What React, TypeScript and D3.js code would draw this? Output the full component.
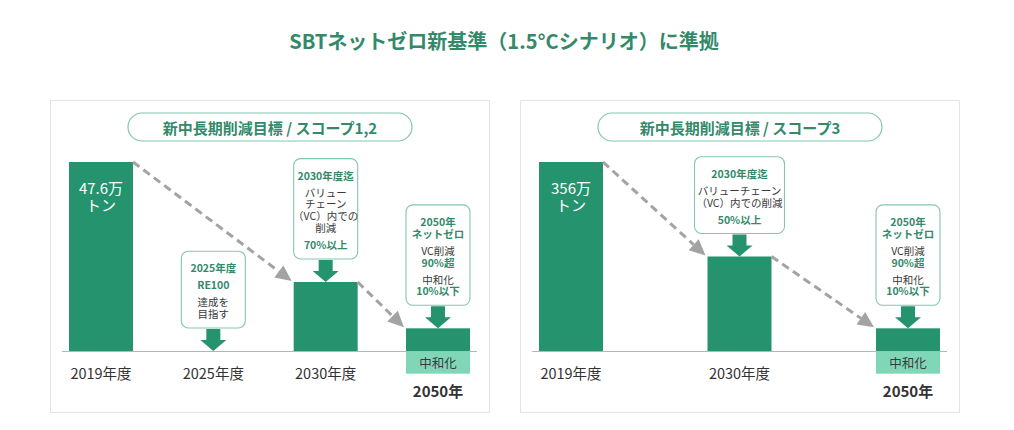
import React from "react";
import * as d3 from "d3";

// ---------- data ----------
const title = "SBTネットゼロ新基準（1.5°Cシナリオ）に準拠";

const panel1Title = "新中長期削減目標 / スコープ1,2";
const panel1Categories = ["2019年度", "2025年度", "2030年度", "2050年"];
const panel1Values = [100, 0, 36.5, 12];
const panel1Neutral = [0, 0, 0, 12];
const panel1Callouts: (string[][] | null)[] = [
  null,
  [["g:2025年度"], ["g:RE100"], ["達成を", "目指す"]],
  [["g:2030年度迄"], ["バリュー", "チェーン", "（VC）内での", "削減"], ["g:70%以上"]],
  [["g:2050年", "g:ネットゼロ"], ["VC削減", "g:90%超"], ["中和化", "g:10%以下"]],
];
const panel1BarLabel = ["47.6万", "トン"];

const panel2Title = "新中長期削減目標 / スコープ3";
const panel2Categories = ["2019年度", "2030年度", "2050年"];
const panel2Values = [100, 50, 12];
const panel2Neutral = [0, 0, 12];
const panel2Callouts: (string[][] | null)[] = [
  null,
  [["g:2030年度迄"], ["バリューチェーン", "（VC）内での削減"], ["g:50%以上"]],
  [["g:2050年", "g:ネットゼロ"], ["VC削減", "g:90%超"], ["中和化", "g:10%以下"]],
];
const panel2BarLabel = ["356万", "トン"];

const neutralLabel = "中和化";

// ---------- style ----------
const DARK = "#24936e";
const LIGHT = "#7fd7b8";
const TITLE_GREEN = "#33896a";
const BOX_STROKE = "#84c6ad";
const FONT = "'Noto Sans CJK JP', 'Noto Sans', sans-serif";

const PW = 439;
const PH = 312;
const BASE = 251; // local baseline y (panel top = 100)
const TOP = 62;
const BAR_W = 64;

function DownArrow({ cx, yTop, yBottom }: { cx: number; yTop: number; yBottom: number }) {
  const head = 11;
  const sw = 7;
  const hw = 13;
  const yh = yBottom - head;
  const d = `M${cx - sw},${yTop} L${cx + sw},${yTop} L${cx + sw},${yh} L${cx + hw},${yh} L${cx},${yBottom} L${cx - hw},${yh} L${cx - sw},${yh} Z`;
  return <path d={d} fill={DARK} />;
}

function layoutCallout(blocks: string[][]) {
  const lines: { text: string; green: boolean; y: number }[] = [];
  let y = 16;
  blocks.forEach((blk, bi) => {
    if (bi > 0) y += 17;
    blk.forEach((s, li) => {
      if (li > 0) y += 11.8;
      const green = s.startsWith("g:");
      lines.push({ text: green ? s.slice(2) : s, green, y });
    });
  });
  return { lines, height: y + 15 };
}

function Panel({
  x,
  heading,
  categories,
  values,
  neutral,
  callouts,
  barLabel,
  boxWidths,
}: {
  x: number;
  heading: string;
  categories: string[];
  values: number[];
  neutral: number[];
  callouts: (string[][] | null)[];
  barLabel: string[];
  boxWidths: number[];
}) {
  const xs = d3.scalePoint<string>().domain(categories).range([51, 388]);
  const ys = d3.scaleLinear().domain([0, 100]).range([BASE, TOP]);
  const last = categories.length - 1;

  const active = values.map((v, i) => ({ v, i })).filter((d) => d.v > 0);
  const links = active.slice(1).map((d, k) => ({ from: active[k], to: d }));

  return (
    <g transform={`translate(${x},100)`}>
      <rect x={0.5} y={0.5} width={PW} height={PH} fill="#fff" stroke="#e3e3e3" />
      <rect x={78} y={13} width={284} height={28} rx={14} fill="#fff" stroke={BOX_STROKE} strokeWidth={1.2} />
      <text x={220} y={27} textAnchor="middle" dominantBaseline="central" fontSize={15} fontWeight={700} fill={TITLE_GREEN}>
        {heading}
      </text>

      {/* bars */}
      {values.map((v, i) => {
        const cx = xs(categories[i])!;
        return v > 0 ? (
          <rect key={"b" + i} x={cx - BAR_W / 2} y={ys(v)} width={BAR_W} height={BASE - ys(v)} fill={DARK} />
        ) : null;
      })}
      {neutral.map((v, i) => {
        const cx = xs(categories[i])!;
        return v > 0 ? (
          <g key={"n" + i}>
            <rect x={cx - BAR_W / 2} y={BASE} width={BAR_W} height={ys(0) - ys(v)} fill={LIGHT} />
            <text x={cx} y={BASE + (ys(0) - ys(v)) / 2 + 0.5} textAnchor="middle" dominantBaseline="central" fontSize={12.5} fill="#3a3a3a">
              {neutralLabel}
            </text>
          </g>
        ) : null;
      })}

      {/* baseline */}
      <line x1={12} x2={427} y1={BASE + 0.5} y2={BASE + 0.5} stroke="#b5b5b5" strokeWidth={1} />

      {/* bar label */}
      <text x={xs(categories[0])!} y={ys(values[0]) + 25} textAnchor="middle" dominantBaseline="central" fontSize={15} fill="#fff">
        <tspan x={xs(categories[0])!} y={ys(values[0]) + 25}>{barLabel[0]}</tspan>
        <tspan x={xs(categories[0])!} y={ys(values[0]) + 42}>{barLabel[1]}</tspan>
      </text>

      {/* dashed trend links */}
      {links.map((l, k) => {
        const x1 = xs(categories[l.from.i])! + BAR_W / 2;
        const y1 = ys(l.from.v);
        const x2 = xs(categories[l.to.i])! - BAR_W / 2 - 2;
        const y2 = ys(l.to.v) - 1;
        const ang = Math.atan2(y2 - y1, x2 - x1);
        const hl = 16;
        const hw = 7.5;
        const bx = x2 - hl * Math.cos(ang);
        const by = y2 - hl * Math.sin(ang);
        const px = -Math.sin(ang);
        const py = Math.cos(ang);
        return (
          <g key={"l" + k}>
            <line x1={x1} y1={y1} x2={bx} y2={by} stroke="#a3a3a3" strokeWidth={3} strokeDasharray="8 5" />
            <path
              d={`M${x2},${y2} L${bx + px * hw},${by + py * hw} L${bx - px * hw},${by - py * hw} Z`}
              fill="#a3a3a3"
            />
          </g>
        );
      })}

      {/* callouts */}
      {callouts.map((c, i) => {
        if (!c) return null;
        const cx = xs(categories[i])!;
        const { lines, height } = layoutCallout(c);
        const bottom = ys(values[i]) - 23;
        const top = bottom - height;
        const w = boxWidths[i];
        return (
          <g key={"c" + i}>
            <rect x={cx - w / 2 + 0.5} y={top} width={w - 1} height={height} rx={7} fill="#fff" stroke={BOX_STROKE} strokeWidth={1.1} />
            <text x={cx} y={top + lines[0].y} textAnchor="middle" dominantBaseline="central" fontSize={10.5}>
              {lines.map((ln, j) => (
                <tspan
                  key={j}
                  x={cx}
                  y={top + ln.y}
                  fontWeight={ln.green ? 700 : 400}
                  fill={ln.green ? TITLE_GREEN : "#3a3a3a"}
                >
                  {ln.text}
                </tspan>
              ))}
            </text>
            <DownArrow cx={cx} yTop={bottom + 1} yBottom={ys(values[i])} />
          </g>
        );
      })}

      {/* category labels */}
      {categories.map((c, i) => {
        const cx = xs(c)!;
        const isLast = i === last;
        return (
          <text
            key={"t" + i}
            x={cx}
            y={isLast ? 290 : 272}
            textAnchor="middle"
            dominantBaseline="central"
            fontSize={isLast ? 15 : 14.5}
            fontWeight={isLast ? 700 : 400}
            fill="#333"
          >
            {c}
          </text>
        );
      })}
    </g>
  );
}

export default function App() {
  return (
    <svg
      width={1014}
      height={430}
      style={{ position: "absolute", left: 0, top: 0, background: "#fff" }}
      fontFamily={FONT}
    >
      <rect width={1014} height={430} fill="#fff" />
      <text x={504} y={40} textAnchor="middle" dominantBaseline="central" fontSize={20} fontWeight={700} fill={TITLE_GREEN}>
        {title}
      </text>
      <Panel
        x={50}
        heading={panel1Title}
        categories={panel1Categories}
        values={panel1Values}
        neutral={panel1Neutral}
        callouts={panel1Callouts}
        barLabel={panel1BarLabel}
        boxWidths={[64, 65, 65, 65]}
      />
      <Panel
        x={520}
        heading={panel2Title}
        categories={panel2Categories}
        values={panel2Values}
        neutral={panel2Neutral}
        callouts={panel2Callouts}
        barLabel={panel2BarLabel}
        boxWidths={[64, 91, 65]}
      />
    </svg>
  );
}
